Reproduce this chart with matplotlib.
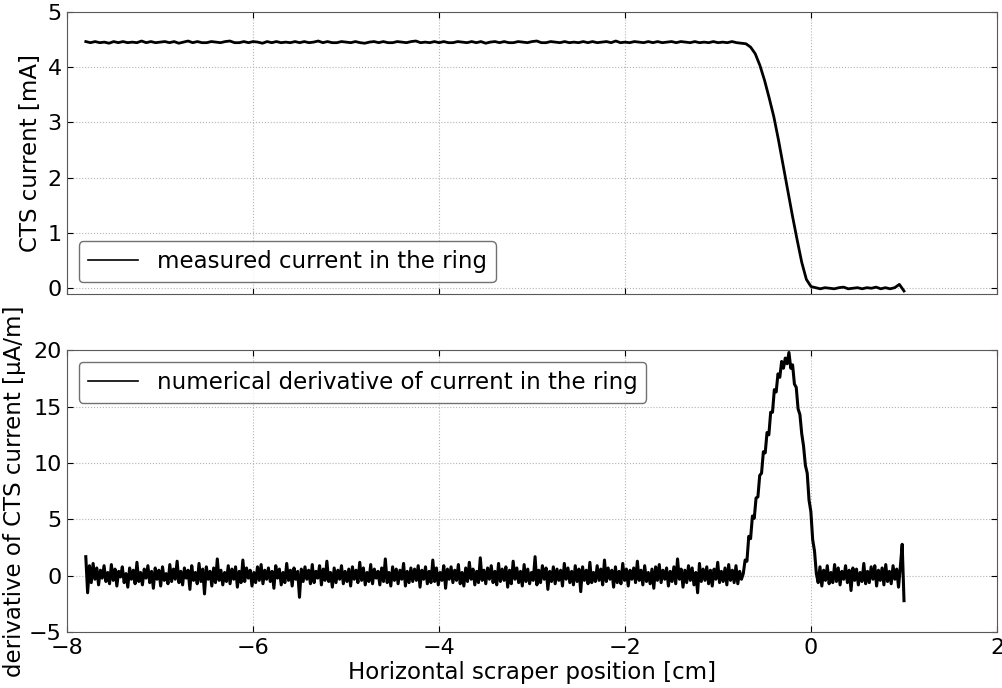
import matplotlib
matplotlib.use("Agg")
import matplotlib.pyplot as plt
import numpy as np

# --- measured CTS current [mA], scan from -7.8 cm to 1.0 cm ---
current_flat = [
    4.46, 4.44, 4.46, 4.44, 4.45, 4.43, 4.46, 4.44, 4.46, 4.44, 4.45, 4.44, 4.47, 4.44, 4.46,
    4.44, 4.45, 4.46, 4.44, 4.46, 4.43, 4.45, 4.47, 4.44, 4.46, 4.44, 4.44, 4.46, 4.45, 4.44,
    4.46, 4.47, 4.44, 4.44, 4.46, 4.44, 4.46, 4.45, 4.43, 4.46, 4.44, 4.46, 4.44, 4.45, 4.44,
    4.46, 4.44, 4.46, 4.44, 4.45, 4.47, 4.44, 4.46, 4.44, 4.44, 4.46, 4.45, 4.44, 4.46, 4.44,
    4.43, 4.45, 4.46, 4.44, 4.46, 4.44, 4.44, 4.46, 4.45, 4.44, 4.46, 4.47, 4.44, 4.45, 4.44,
    4.46, 4.44, 4.46, 4.44, 4.44, 4.46, 4.45, 4.44, 4.46, 4.44, 4.46, 4.43, 4.45, 4.46, 4.44,
    4.46, 4.44, 4.44, 4.46, 4.45, 4.44, 4.46, 4.47, 4.44, 4.44, 4.46, 4.45, 4.44, 4.46, 4.44,
    4.45, 4.44, 4.46, 4.44, 4.46, 4.44, 4.45, 4.46, 4.44, 4.47, 4.44, 4.45, 4.44, 4.46, 4.45,
    4.44, 4.46, 4.44, 4.46, 4.44, 4.45, 4.46, 4.44, 4.46, 4.45, 4.44, 4.46, 4.44, 4.45, 4.44,
    4.46, 4.44, 4.45, 4.44, 4.46, 4.44, 4.43,
]
current_drop = [4.42, 4.36, 4.24, 4.03, 3.76, 3.44, 3.10, 2.68, 2.22, 1.75,
                1.31, 0.88, 0.47, 0.16, 0.03]
current_tail = [0.01, -0.01, 0.01, 0.00, -0.01, 0.01, 0.02, -0.01, 0.00, 0.01,
                -0.01, 0.01, 0.00, 0.02, -0.01, 0.01, -0.01, 0.01, 0.07, -0.05]

# --- numerical derivative [0.1 uA/m units], same scan range ---
deriv_flat = [
    17, -15, 9, -6, 11, -3, 7, -8, 5, -2, 9, -5, 3, -7, 10, -4, 6, -9, 4, -1,
    8, -6, 2, -10, 7, -3, 5, -7, 12, -5, 3, -8, 6, -2, 9, -6, 4, -11, 7, -3,
    5, -9, 8, -4, 2, -7, 10, -5, 6, -3, 13, -6, 4, -8, 7, -2, 5, -12, 9, -4,
    3, -7, 11, -5, 6, -16, 8, -3, 4, -9, 7, -6, 15, -4, 5, -8, 3, -5, 9, -7,
    6, -3, 8, -10, 4, -6, 14, -5, 7, -2, 5, -9, 3, -6, 8, -4, 10, -7, 5, -3,
    7, -5, 4, -11, 9, -2, 6, -8, 3, -6, 11, -4, 5, -9, 7, -3, 4, -19, 6, -5,
    8, -3, 5, -7, 10, -6, 4, -2, 9, -8, 6, -4, 13, -5, 3, -10, 7, -6, 5, -3,
    9, -7, 4, -5, 6, -9, 8, -3, 5, -6, 12, -4, 7, -8, 3, -5, 10, -7, 6, -2,
    4, -8, 7, -5, 15, -6, 3, -9, 8, -4, 6, -7, 5, -3, 11, -9, 4, -6, 7, -5,
    6, -4, 9, -10, 5, -3, 8, -7, 4, -6, 14, -5, 7, -8, 3, -4, 9, -11, 6, -3,
    8, -6, 5, -4, 10, -7, 3, -9, 7, -5, 12, -3, 6, -8, 4, -6, 16, -4, 5, -7,
    7, -3, 9, -6, 4, -8, 11, -5, 6, -4, 8, -10, 5, -7, 13, -3, 7, -6, 4, -9,
    10, -5, 6, -7, 3, -4, 17, -8, 5, -6, 9, -3, 7, -12, 4, -5, 8, -7, 6, -4,
    5, -9, 11, -3, 7, -6, 4, -8, 9, -5, 6, -14, 8, -4, 5, -7, 12, -6, 3, -5,
    9, -4, 6, -8, 14, -5, 7, -3, 5, -10, 8, -6, 4, -7, 11, -4, 6, -9, 5, -3,
    7, -6, 13, -4, 5, -8, 9, -5, 3, -7, 6, -11, 8, -4, 10, -6, 5, -3, 7, -9,
    4, -5, 8, -7, 15, -3, 6, -10, 5, -6, 9, -4, 7, -8, 3, -15, 11, -5, 6, -4,
    8, -7, 5, -9, 6, -3, 12, -6, 4, -5, 7, -8, 10, -4, 5, -6, 9, -7, 4, -3,
]
deriv_peak = [2, 14, 13, 35, 33, 53, 51, 69, 70, 89, 91, 110, 109, 127, 125, 145,
              145, 165, 163, 179, 176, 190, 184, 193, 188, 198, 184, 187, 170, 167,
              148, 143, 126, 115, 98, 91, 67, 57, 32, 22, 2]
deriv_tail = [-6, 8, -9, 5, -4, 9, -7, 3, -6, 10, -5, 7, -8, 4, -3, 9, -6, 5, -13, 7,
              -4, 6, -8, 3, -5, 11, -7, 4, -6, 8, -3, 9, -9, 5, -4, 7, -8, 10, -5, 4,
              -7, 9, -3, 6, -10, 8, 28, -22]

x_start, x_end = -7.8, 1.0

current = np.array(current_flat + current_drop + current_tail)
x_cur = np.linspace(x_start, x_end, len(current))
deriv = np.array(deriv_flat + deriv_peak + deriv_tail) / 10.0
x_der = np.linspace(x_start, x_end, len(deriv))

plt.rcParams['font.family'] = 'DejaVu Sans'
plt.rcParams['font.size'] = 16.5
plt.rcParams['xtick.labelsize'] = 16
plt.rcParams['ytick.labelsize'] = 16

fig, (ax1, ax2) = plt.subplots(2, 1, sharex=True, figsize=(10.03, 6.88), dpi=100)
fig.subplots_adjust(left=0.067, right=0.994, top=0.983, bottom=0.081, hspace=0.2)

ax1.plot(x_cur, current, color='black', lw=2.0, label='measured current in the ring')
ax2.plot(x_der, deriv, color='black', lw=2.2,
         label='numerical derivative of current in the ring')

ax1.set_ylim(-0.1, 5)
ax1.set_yticks([0, 1, 2, 3, 4, 5])
ax1.set_ylabel('CTS current [mA]')
leg1 = ax1.legend(loc='lower left', fancybox=True, handlelength=2.2, borderaxespad=0.5)

ax2.set_xlim(-8, 2)
ax2.set_ylim(-5, 20)
ax2.set_yticks([-5, 0, 5, 10, 15, 20])
ax2.set_xlabel('Horizontal scraper position [cm]', labelpad=2)
ax2.set_ylabel('derivative of CTS current [μA/m]', labelpad=2)
leg2 = ax2.legend(loc='upper left', fancybox=True, handlelength=2.2, borderaxespad=0.5)

for leg in (leg1, leg2):
    leg.get_frame().set_edgecolor('0.3')
    for h in leg.get_lines():
        h.set_linewidth(1.2)

for ax in (ax1, ax2):
    ax.grid(True, linestyle=':', color='0.7', lw=0.8)
    ax.tick_params(direction='in', top=True, right=True, length=4, pad=4)
    for sp in ax.spines.values():
        sp.set_color('0.35')

plt.savefig('out.png', dpi=100)
plt.close()
